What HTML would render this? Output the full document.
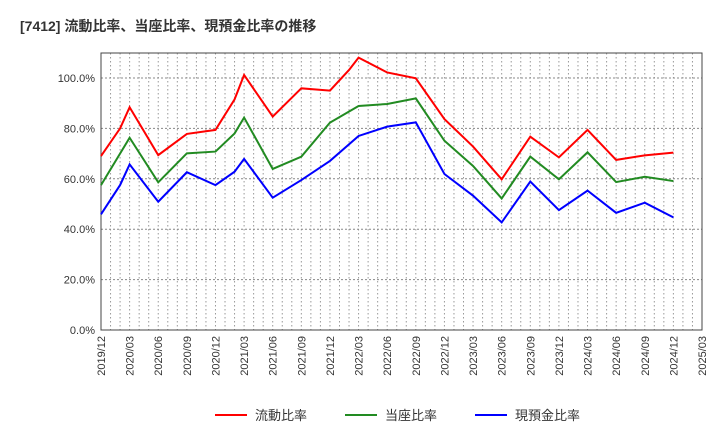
<!DOCTYPE html>
<html><head><meta charset="utf-8"><style>
body{margin:0;background:#fff;font-family:"Liberation Sans","Noto Sans CJK JP",sans-serif;}
svg text{font-family:"Liberation Sans","Noto Sans CJK JP",sans-serif;}
</style></head><body>
<svg id="c" width="720" height="440" xmlns="http://www.w3.org/2000/svg">
<text x="20" y="31" font-size="14" font-weight="bold" fill="#333">[7412]  流動比率、当座比率、現預金比率の推移</text>
<g id="grid"></g><g id="axes"></g><g id="series"></g><g id="legend"></g>
</svg>
<script>
const xTickLabels=["2019/12","2020/03","2020/06","2020/09","2020/12","2021/03","2021/06","2021/09","2021/12","2022/03","2022/06","2022/09","2022/12","2023/03","2023/06","2023/09","2023/12","2024/03","2024/06","2024/09","2024/12","2025/03"];
const yTicks=[0,20,40,60,80,100];
const seriesNames=["流動比率","当座比率","現預金比率"];
const seriesColors=["#ff0000","#228b22","#0000ff"];
const redMonths=[0,2,3,6,9,12,14,15,18,21,24,26,27,30,33,36,39,42,45,48,51,54,57,60];
const redValues=[69.0,80.0,88.4,69.4,77.8,79.4,91.5,101.2,84.7,95.9,95.0,103.2,108.1,102.2,99.9,83.7,72.8,59.8,76.7,68.5,79.4,67.5,69.3,70.4];
const greenMonths=[0,3,6,9,12,14,15,18,21,24,27,30,33,36,39,42,45,48,51,54,57,60];
const greenValues=[57.5,76.3,58.6,70.1,70.8,78.0,84.3,63.9,68.8,82.3,88.9,89.7,91.9,75.1,65.1,52.2,68.8,59.8,70.5,58.7,60.8,59.1];
const blueMonths=[0,2,3,6,9,12,14,15,18,21,24,27,30,33,36,39,42,45,48,51,54,57,60];
const blueValues=[45.9,57.5,65.7,50.9,62.6,57.5,62.8,67.9,52.5,59.5,67.1,77.0,80.7,82.4,61.9,53.3,42.7,58.9,47.6,55.3,46.5,50.5,44.7];
const X0=101,X1=702,Y0=330,YT=53,totalMonths=63;
const xs=m=>X0+m*(X1-X0)/totalMonths;
const ys=v=>Y0-v*(Y0-78)/100;
const NS="http://www.w3.org/2000/svg";
function mk(t,a,p){const e=document.createElementNS(NS,t);for(const k in a)e.setAttribute(k,a[k]);p.appendChild(e);return e;}
const grid=document.getElementById('grid'),axes=document.getElementById('axes'),ser=document.getElementById('series'),leg=document.getElementById('legend');
for(let m=1;m<totalMonths;m++){const l=mk('line',{x1:xs(m),x2:xs(m),y1:YT,y2:Y0,stroke:'#999','stroke-dasharray':'1.5,2.5','stroke-width':1},grid);

}
yTicks.forEach(v=>{if(v>0){const l=mk('line',{x1:X0,x2:X1,y1:ys(v),y2:ys(v),stroke:'#888','stroke-dasharray':'2,2','stroke-width':1},grid);

}
const t=mk('text',{x:X0-6,y:ys(v)+4,'text-anchor':'end','font-size':11,fill:'#333'},axes);t.textContent=v.toFixed(1)+'%';

});
const fr=mk('rect',{x:X0,y:YT,width:X1-X0,height:Y0-YT,fill:'none',stroke:'#444','stroke-width':1},axes);


xTickLabels.forEach((s,i)=>{const x=xs(i*3);const t=mk('text',{x:0,y:0,'text-anchor':'end','font-size':11,fill:'#333',transform:`translate(${x+4},336) rotate(-90)`},axes);t.textContent=s;

});
[[redMonths,redValues],[greenMonths,greenValues],[blueMonths,blueValues]].forEach(([ms,vs],k)=>{
const p=mk('polyline',{points:ms.map((m,i)=>xs(m)+','+ys(vs[i])).join(' '),fill:'none',stroke:seriesColors[k],'stroke-width':2},ser);


const lx=[215,345,475][k];
const ll=mk('line',{x1:lx,x2:lx+32,y1:415,y2:415,stroke:seriesColors[k],'stroke-width':2},leg);


const lt=mk('text',{x:lx+40,y:420,'font-size':13,fill:'#333'},leg);lt.textContent=seriesNames[k];

});
</script>
</body></html>
